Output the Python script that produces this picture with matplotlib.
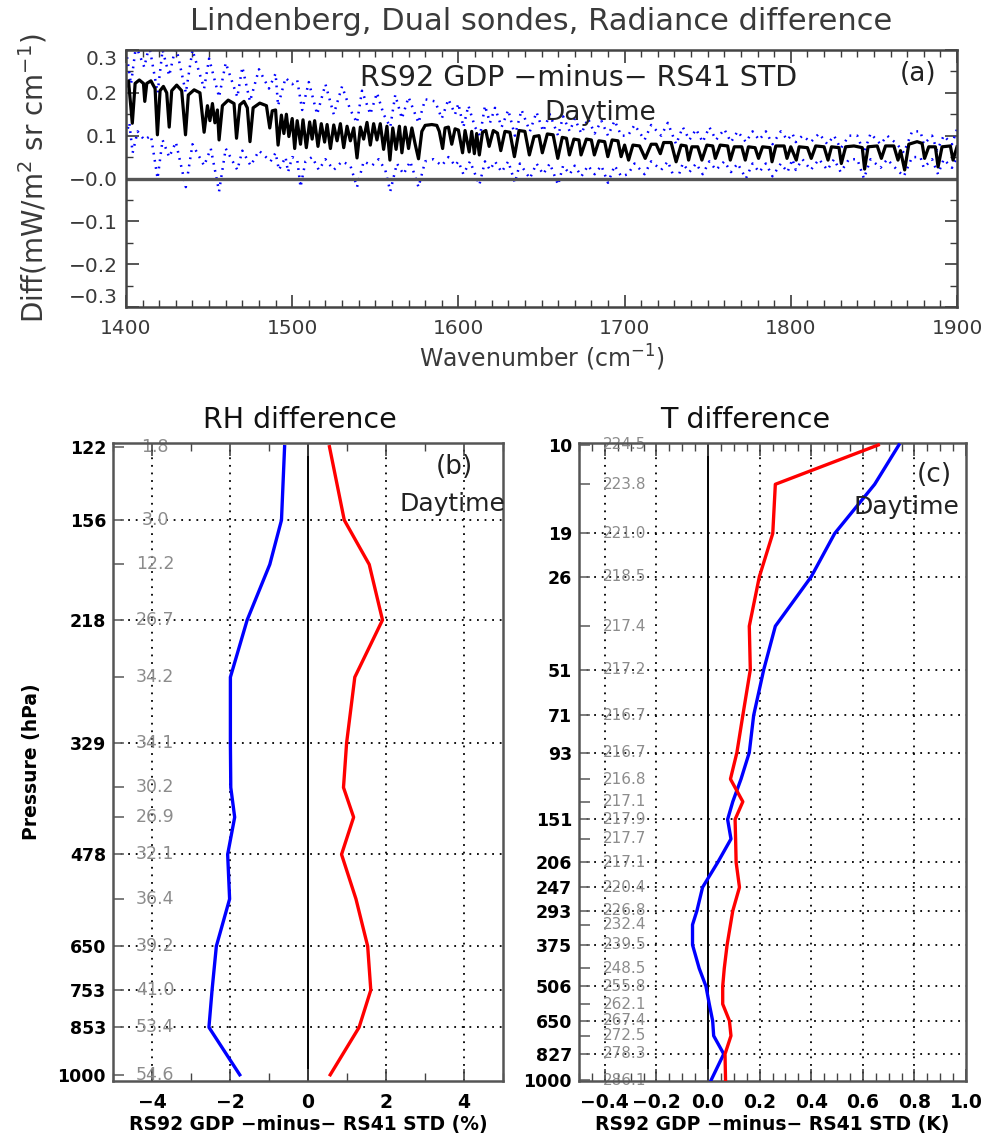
import matplotlib
matplotlib.use('Agg')
import matplotlib.pyplot as plt
from matplotlib.ticker import FixedLocator, FixedFormatter, MultipleLocator, NullFormatter

plt.rcParams['font.family'] = ['DejaVu Sans']

# ---------------- Panel (a): radiance difference spectrum ----------------
wn_mean = [1400, 1401.5, 1403.8, 1405.5, 1408, 1410.5, 1411.3, 1412.5, 1415, 1417.5,
           1418.9, 1420.5, 1422.5, 1424.5, 1426, 1427.5, 1430.5, 1433.5, 1435.8, 1437.5,
           1441, 1444.5, 1447, 1449, 1450.5, 1452, 1453.5, 1455, 1456, 1458,
           1461.5, 1465, 1466.5, 1468.5, 1471, 1473, 1474.6, 1476.5, 1480.5, 1484.5,
           1486.5, 1488, 1490, 1491.5, 1493.5, 1495, 1496.5, 1498, 1500,
           1501.5, 1503, 1505, 1506.5, 1508.5, 1510.5, 1512, 1513.5, 1515.5, 1517.5,
           1519.5, 1521, 1523, 1525, 1527, 1529, 1531, 1533, 1535, 1537,
           1539, 1541, 1543, 1545, 1547, 1549, 1551, 1553, 1555, 1557,
           1558.8, 1560.5, 1562.5, 1564.5, 1566, 1568, 1570, 1572, 1574, 1576,
           1578, 1580, 1584, 1587, 1588.5, 1590.5, 1592, 1594, 1596, 1598,
           1600, 1602.5, 1604, 1606.5, 1608, 1609.6, 1611, 1612.6, 1614.5, 1616.5,
           1618.5, 1621, 1623.5, 1625.5, 1628, 1631, 1633.7, 1636.5, 1640, 1642.7,
           1645.5, 1648.5, 1650.5, 1653.5, 1657, 1659.8, 1662.5, 1665, 1666.8, 1669.5,
           1672.5, 1673.8, 1677, 1680, 1681.8, 1684.5, 1688, 1689.9, 1692.5, 1696,
           1697.9, 1700, 1702.4, 1705, 1709, 1712.4, 1716, 1719, 1721.5, 1723.5,
           1728, 1731, 1734, 1737, 1738.5, 1740.5, 1744, 1746.5, 1749.5, 1753,
           1754.6, 1757.5, 1762, 1763.6, 1766, 1770.5, 1772.6, 1774.5, 1778.5, 1780.6,
           1783, 1787.5, 1788.7, 1791, 1796, 1797.7, 1800, 1803.3, 1805, 1810,
           1812.3, 1815, 1820, 1822.4, 1824.5, 1829, 1830.4, 1833, 1838, 1843,
           1844.4, 1846.5, 1852, 1854.5, 1857, 1862, 1864.5, 1866, 1868.5, 1871,
           1876, 1879, 1880.5, 1883, 1887, 1888.6, 1891, 1896, 1897.6, 1900]
diff_mean = [0.215, 0.228, 0.129, 0.222, 0.230, 0.222, 0.180, 0.222, 0.228, 0.210,
             0.102, 0.205, 0.215, 0.200, 0.120, 0.205, 0.218, 0.205, 0.102, 0.195,
             0.207, 0.200, 0.108, 0.170, 0.135, 0.175, 0.130, 0.160, 0.090, 0.170,
             0.183, 0.175, 0.094, 0.172, 0.180, 0.165, 0.086, 0.165, 0.176, 0.170,
             0.118, 0.158, 0.160, 0.078, 0.148, 0.105, 0.150, 0.098, 0.140,
             0.070, 0.135, 0.080, 0.137, 0.072, 0.132, 0.092, 0.135, 0.075, 0.128,
             0.085, 0.126, 0.070, 0.125, 0.088, 0.128, 0.072, 0.122, 0.088, 0.118,
             0.048, 0.120, 0.092, 0.131, 0.078, 0.128, 0.090, 0.128, 0.068, 0.122,
             0.043, 0.118, 0.068, 0.122, 0.060, 0.120, 0.070, 0.118, 0.080, 0.046,
             0.110, 0.124, 0.126, 0.124, 0.110, 0.070, 0.118, 0.120, 0.080, 0.116,
             0.113, 0.060, 0.112, 0.062, 0.110, 0.058, 0.105, 0.055, 0.108, 0.112,
             0.075, 0.112, 0.106, 0.065, 0.110, 0.108, 0.051, 0.112, 0.110, 0.055,
             0.098, 0.100, 0.060, 0.104, 0.102, 0.047, 0.096, 0.094, 0.055, 0.092,
             0.090, 0.055, 0.092, 0.090, 0.055, 0.088, 0.086, 0.051, 0.090, 0.088,
             0.051, 0.078, 0.043, 0.078, 0.076, 0.047, 0.080, 0.080, 0.058, 0.084,
             0.084, 0.039, 0.078, 0.076, 0.043, 0.074, 0.074, 0.043, 0.078, 0.076,
             0.047, 0.078, 0.076, 0.043, 0.074, 0.074, 0.043, 0.074, 0.072, 0.047,
             0.074, 0.072, 0.039, 0.076, 0.076, 0.047, 0.074, 0.043, 0.074, 0.072,
             0.047, 0.076, 0.074, 0.043, 0.074, 0.072, 0.035, 0.074, 0.076, 0.072,
             0.022, 0.074, 0.076, 0.047, 0.076, 0.076, 0.043, 0.065, 0.020, 0.080,
             0.086, 0.082, 0.047, 0.074, 0.074, 0.027, 0.074, 0.076, 0.043, 0.074]

wn_upper = [1400, 1403, 1406, 1411, 1414, 1419, 1422, 1426, 1430, 1436,
            1440, 1447, 1450, 1456, 1460, 1467, 1470, 1474.6, 1480, 1486,
            1490, 1491.5, 1496, 1500, 1503, 1506, 1510, 1515, 1520, 1525,
            1530, 1535, 1539, 1542, 1547, 1551, 1555, 1559, 1562, 1566,
            1570, 1576, 1580, 1586, 1590, 1594, 1598, 1600, 1603, 1606,
            1610, 1613, 1616, 1619, 1622, 1626, 1630, 1634, 1638, 1643,
            1647, 1651, 1655, 1660, 1663, 1667, 1670, 1674, 1678, 1682,
            1686, 1690, 1694, 1698, 1702, 1706, 1712, 1716, 1722, 1726,
            1731, 1735, 1739, 1743, 1747, 1751, 1755, 1760, 1764, 1768,
            1773, 1777, 1781, 1785, 1789, 1794, 1798, 1801, 1803, 1807,
            1812, 1817, 1822, 1826, 1830, 1835, 1840, 1844, 1848, 1854,
            1858, 1864, 1868, 1873, 1878, 1880, 1885, 1888, 1892, 1897, 1900]
diff_upper = [0.30, 0.22, 0.31, 0.26, 0.31, 0.20, 0.30, 0.24, 0.31, 0.20,
              0.30, 0.21, 0.28, 0.19, 0.27, 0.19, 0.26, 0.18, 0.255, 0.21,
              0.245, 0.17, 0.235, 0.22, 0.23, 0.16, 0.225, 0.15, 0.22, 0.15,
              0.215, 0.16, 0.13, 0.205, 0.15, 0.20, 0.15, 0.12, 0.195, 0.14,
              0.19, 0.13, 0.185, 0.18, 0.14, 0.185, 0.15, 0.175, 0.12, 0.17,
              0.12, 0.10, 0.17, 0.13, 0.165, 0.12, 0.16, 0.10, 0.16, 0.11,
              0.155, 0.11, 0.15, 0.10, 0.145, 0.11, 0.14, 0.105, 0.14, 0.105,
              0.135, 0.10, 0.135, 0.10, 0.10, 0.125, 0.09, 0.125, 0.10, 0.13,
              0.08, 0.12, 0.09, 0.115, 0.085, 0.12, 0.09, 0.115, 0.085, 0.11,
              0.085, 0.11, 0.09, 0.11, 0.08, 0.11, 0.09, 0.105, 0.085, 0.10,
              0.085, 0.105, 0.08, 0.10, 0.07, 0.10, 0.10, 0.06, 0.105, 0.08,
              0.10, 0.08, 0.06, 0.11, 0.11, 0.08, 0.10, 0.065, 0.10, 0.08, 0.115]

wn_lower = [1400, 1402, 1404, 1407, 1411, 1415, 1419, 1422, 1426, 1430,
            1436, 1440, 1447, 1451, 1456, 1460, 1467, 1470, 1475, 1480,
            1487, 1490, 1492, 1496, 1497.5, 1500, 1503, 1505, 1508, 1512,
            1516, 1520, 1525, 1530, 1535, 1539, 1543, 1548, 1552, 1556,
            1559, 1563, 1567, 1571, 1576, 1580, 1585, 1590, 1594, 1598,
            1600, 1603, 1607, 1612.6, 1616, 1619, 1622, 1626, 1630, 1634,
            1637, 1643, 1647, 1651, 1655, 1660, 1663, 1667, 1670, 1674,
            1678, 1682, 1686, 1690, 1694, 1698, 1702, 1706, 1712, 1716,
            1722, 1726, 1731, 1735, 1739, 1743, 1747, 1751, 1755, 1760,
            1764, 1768, 1773, 1777, 1781, 1785, 1789, 1794, 1798, 1801,
            1803, 1807, 1812, 1817, 1822, 1826, 1830, 1835, 1840, 1844,
            1848, 1854, 1858, 1864, 1868, 1873, 1878, 1880, 1885, 1888.6,
            1892, 1897, 1900]
diff_lower = [0.10, 0.13, 0.06, 0.11, 0.09, 0.10, 0.0, 0.09, 0.05, 0.085,
              -0.02, 0.08, 0.03, 0.07, -0.03, 0.07, 0.02, 0.065, 0.03, 0.065,
              0.04, 0.06, 0.02, 0.05, 0.015, 0.05, 0.045, -0.02, 0.04, 0.05,
              0.02, 0.045, 0.02, 0.04, 0.03, -0.02, 0.04, 0.03, 0.045, 0.02,
              -0.03, 0.035, 0.01, 0.04, -0.02, 0.04, 0.045, 0.03, 0.05, 0.03,
              0.04, 0.01, 0.04, -0.015, 0.04, 0.02, 0.04, 0.015, 0.04, -0.01,
              0.035, 0.0, 0.035, 0.01, 0.035, -0.015, 0.03, 0.01, 0.03, 0.005,
              0.03, 0.01, 0.03, -0.01, 0.03, 0.005, 0.01, 0.035, 0.01, 0.04,
              0.02, 0.04, -0.01, 0.035, 0.015, 0.035, 0.01, 0.04, 0.02, 0.04,
              0.015, 0.035, 0.0, 0.035, 0.015, 0.035, 0.005, 0.035, 0.015, 0.045,
              0.02, 0.045, 0.02, 0.045, 0.02, 0.045, 0.015, 0.045, 0.045, 0.0,
              0.045, 0.025, 0.045, 0.02, 0.005, 0.05, 0.05, 0.025, 0.045, 0.01,
              0.045, 0.025, 0.05]

a_xticks = [1400, 1500, 1600, 1700, 1800, 1900]
a_yticks = [-0.3, -0.2, -0.1, 0.0, 0.1, 0.2, 0.3]
a_yticklabels = ['\u22120.3', '\u22120.2', '\u22120.1', '\u22120.0', '0.1', '0.2', '0.3']

# ---------------- Panel (b): RH difference ----------------
rh_pressure = [122, 156, 181, 218, 264, 329, 382, 422, 478, 555, 650, 753, 853, 1000]
rh_ticklabels = ['122', '156', '', '218', '', '329', '', '', '478', '', '650', '753', '853', '1000']
rh_values = ['1.8', '3.0', '12.2', '26.7', '34.2', '34.1', '30.2', '26.9', '32.1', '36.4',
             '39.2', '41.0', '53.4', '54.6']
rh_diff_blue = [-0.60, -0.68, -0.98, -1.56, -1.99, -1.99, -1.98, -1.88, -2.06, -2.01,
                -2.35, -2.46, -2.54, -1.75]
rh_diff_red = [0.55, 0.93, 1.57, 1.91, 1.20, 0.99, 0.91, 1.17, 0.86, 1.23,
               1.53, 1.61, 1.31, 0.57]
rh_xticks = [-4, -2, 0, 2, 4]
rh_xticklabels = ['\u22124', '\u22122', '0', '2', '4']

# ---------------- Panel (c): T difference ----------------
t_pressure = [10, 13.3, 19, 26, 37.2, 51, 71, 93, 112.7, 132.8, 151, 174, 206, 247,
              293, 324, 375, 445, 506, 576, 650, 725, 827, 1000]
t_ticklabels = ['10', '', '19', '26', '', '51', '71', '93', '', '', '151', '', '206', '247',
                '293', '', '375', '', '506', '', '650', '', '827', '1000']
t_values = ['224.5', '223.8', '221.0', '218.5', '217.4', '217.2', '216.7', '216.7', '216.8',
            '217.1', '217.9', '217.7', '217.1', '220.4', '226.8', '232.4', '239.5', '248.5',
            '255.8', '262.1', '267.4', '272.5', '278.3', '286.1']
t_diff_red = [0.66, 0.261, 0.251, 0.199, 0.160, 0.164, 0.135, 0.112, 0.087, 0.135,
              0.105, 0.107, 0.109, 0.122, 0.096, 0.087, 0.074, 0.063, 0.057, 0.057,
              0.083, 0.089, 0.066, 0.068]
t_diff_blue = [0.74, 0.646, 0.491, 0.400, 0.261, 0.216, 0.177, 0.160, 0.128, 0.096,
               0.076, 0.089, 0.038, -0.021, -0.043, -0.060, -0.060, -0.034, -0.008, 0.005,
               0.018, 0.022, 0.061, 0.012]
t_xticks = [-0.4, -0.2, 0.0, 0.2, 0.4, 0.6, 0.8, 1.0]
t_xticklabels = ['\u22120.4', '\u22120.2', '0.0', '0.2', '0.4', '0.6', '0.8', '1.0']

# ---------------- Figure ----------------
W, H = 989, 1138
fig = plt.figure(figsize=(W / 100, H / 100), dpi=100)

def box(l, t, r, b):
    return [l / W, 1 - b / H, (r - l) / W, (b - t) / H]

acol = '#3a3a3a'
dot = (0, (1, 3.2))

# ---- (a)
ax = fig.add_axes(box(126, 50, 957, 307))
ax.plot(wn_upper, diff_upper, color='#0000ff', lw=1.8, linestyle=(0, (0.7, 2.2)))
ax.plot(wn_lower, diff_lower, color='#0000ff', lw=1.8, linestyle=(0, (0.7, 2.2)))
ax.plot(wn_mean, diff_mean, color='black', lw=2.3)
ax.axhline(0, color='#555555', lw=2.4)
ax.set_xlim(1400, 1900)
ax.set_ylim(-0.3, 0.3)
ax.xaxis.set_major_locator(FixedLocator(a_xticks))
ax.xaxis.set_minor_locator(MultipleLocator(10))
ax.yaxis.set_major_locator(FixedLocator(a_yticks))
ax.yaxis.set_major_formatter(FixedFormatter(a_yticklabels))
ax.yaxis.set_minor_locator(MultipleLocator(0.05))
ax.tick_params(which='both', direction='in', top=True, right=True, colors=acol,
               labelsize=14.5, labelcolor=acol)
ax.tick_params(which='major', length=9, width=1.2)
ax.tick_params(which='minor', length=5, width=1.0)
ax.tick_params(axis='x', pad=9)
ax.tick_params(axis='y', pad=6)
for s in ax.spines.values():
    s.set_color('#444444')
    s.set_linewidth(1.8)
ylabs = ax.get_yticklabels()
ylabs[0].set_va('bottom')
ylabs[-1].set_va('top')
ax.set_xlabel('Wavenumber (cm$^{-1}$)', fontsize=17, color=acol, labelpad=3)
ax.set_ylabel('Diff(mW/m$^2$ sr cm$^{-1}$)', fontsize=20, color=acol, labelpad=14)
fig.text(0.547, 1 - 21 / H, 'Lindenberg, Dual sondes, Radiance difference',
         ha='center', va='center', fontsize=22, color=acol)
ax.text(0.545, 0.89, 'RS92 GDP \u2212minus\u2212 RS41 STD', transform=ax.transAxes,
        ha='center', va='center', fontsize=20.5, color='#222222')
ax.text(0.571, 0.755, 'Daytime', transform=ax.transAxes, ha='center', va='center',
        fontsize=19, color='#222222')
ax.text(0.953, 0.905, '(a)', transform=ax.transAxes, ha='center', va='center',
        fontsize=19, color='#222222')

def profile_axes(rect, xlim, ylim, levels, ticklabels, values, label_x, vsize):
    axp = fig.add_axes(rect)
    axp.set_yscale('log')
    axp.set_xlim(*xlim)
    axp.set_ylim(*ylim)
    axp.yaxis.set_major_locator(FixedLocator(levels))
    axp.yaxis.set_major_formatter(FixedFormatter(ticklabels))
    axp.yaxis.set_minor_locator(FixedLocator([]))
    axp.yaxis.set_minor_formatter(NullFormatter())
    for p, lab in list(zip(levels, ticklabels))[1:-1]:
        if lab:
            axp.axhline(p, color='black', lw=1.3, linestyle=dot, zorder=1)
    for p, v in zip(levels, values):
        axp.text(label_x, p, v, ha='center', va='center', fontsize=vsize,
                 color='#8c8c8c', zorder=2)
    axp.axvline(0, color='black', lw=1.4, zorder=1)
    axp.tick_params(axis='y', which='major', direction='in', length=8, width=1.2,
                    color='#666666', labelsize=12.5, pad=5)
    axp.tick_params(axis='x', which='both', direction='in', top=True, bottom=True,
                    color='#444444', labelsize=13.5, pad=9)
    axp.tick_params(axis='x', which='major', length=9, width=1.2)
    axp.tick_params(axis='x', which='minor', length=6, width=1.0)
    for s in axp.spines.values():
        s.set_color('#555555')
        s.set_linewidth(1.8)
    return axp

# ---- (b)
bx = profile_axes(box(113, 443, 503, 1081), (-5, 5), (1021, 120.5), rh_pressure,
                  rh_ticklabels, rh_values, -3.92, 12.5)
bx.xaxis.set_major_locator(FixedLocator(rh_xticks))
bx.xaxis.set_major_formatter(FixedFormatter(rh_xticklabels))
bx.xaxis.set_minor_locator(MultipleLocator(1))
for xv in rh_xticks:
    if xv != 0:
        bx.axvline(xv, color='black', lw=1.3, linestyle=dot, zorder=1)
bx.plot(rh_diff_blue, rh_pressure, color='#0000ff', lw=2.4, zorder=3)
bx.plot(rh_diff_red, rh_pressure, color='#ff0000', lw=2.4, zorder=3)
for lab in bx.get_xticklabels() + bx.get_yticklabels():
    lab.set_fontweight('bold')
bx.set_xlabel('RS92 GDP \u2212minus\u2212 RS41 STD (%)', fontsize=13.5,
              fontweight='bold', labelpad=2)
bx.set_ylabel('Pressure (hPa)', fontsize=13.5, fontweight='bold', labelpad=12)
bx.set_title('RH difference', fontsize=20.5, pad=11, color='#111111', x=0.48)
bx.text(0.875, 0.962, '(b)', transform=bx.transAxes, ha='center', va='center',
        fontsize=19, color='#222222')
bx.text(0.87, 0.905, 'Daytime', transform=bx.transAxes, ha='center', va='center',
        fontsize=18, color='#222222')

# ---- (c)
cx = profile_axes(box(579, 443, 966, 1081), (-0.5, 1.0), (1006, 9.86), t_pressure,
                  t_ticklabels, t_values, -0.322, 11)
cx.xaxis.set_major_locator(FixedLocator(t_xticks))
cx.xaxis.set_major_formatter(FixedFormatter(t_xticklabels))
cx.xaxis.set_minor_locator(MultipleLocator(0.05))
for xv in t_xticks:
    if abs(xv) > 1e-9 and xv < 0.99:
        cx.axvline(xv, color='black', lw=1.3, linestyle=dot, zorder=1)
cx.plot(t_diff_blue, t_pressure, color='#0000ff', lw=2.4, zorder=3)
cx.plot(t_diff_red, t_pressure, color='#ff0000', lw=2.4, zorder=3)
for lab in cx.get_xticklabels() + cx.get_yticklabels():
    lab.set_fontweight('bold')
cx.set_xlabel('RS92 GDP \u2212minus\u2212 RS41 STD (K)', fontsize=13.5,
              fontweight='bold', labelpad=2)
cx.set_title('T difference', fontsize=20.5, pad=11, color='#111111', x=0.43)
cx.text(0.918, 0.95, '(c)', transform=cx.transAxes, ha='center', va='center',
        fontsize=19, color='#222222')
cx.text(0.845, 0.9, 'Daytime', transform=cx.transAxes, ha='center', va='center',
        fontsize=18, color='#222222')

fig.savefig('out.png', dpi=100)
